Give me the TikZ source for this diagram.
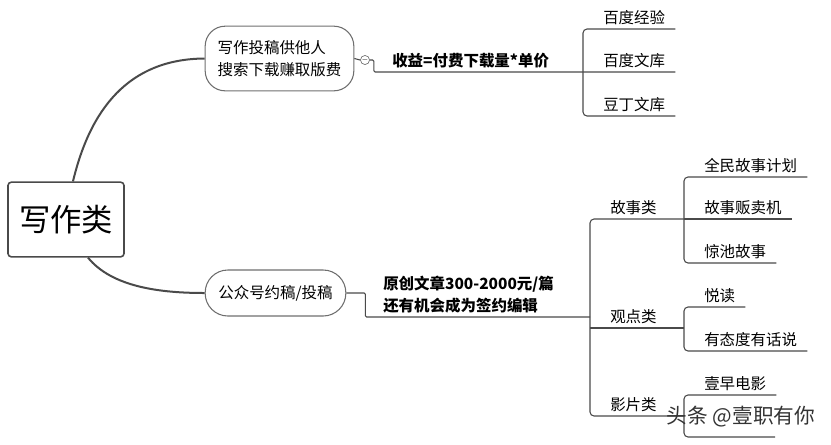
\documentclass[tikz,border=0pt]{standalone}
\usepackage{fontspec}
\setmainfont{Noto Sans CJK SC}
\usepackage{xcolor}
\definecolor{linegray}{HTML}{4A4A4A}
\definecolor{boxgray}{HTML}{6E6E6E}

\begin{document}
\begin{tikzpicture}[x=0.75pt,y=0.75pt,yscale=-1,
    mainline/.style={draw=linegray, line width=1.5pt},
    branch/.style={draw=linegray, line width=0.8pt, rounded corners=3pt},
    topic/.style={draw=boxgray, line width=0.8pt, align=left, inner xsep=8pt,
        font=\fontsize{11.6}{16.5}\selectfont},
    leaf/.style={anchor=south west, xshift=7.5pt, inner xsep=7.5pt, inner ysep=3pt,
        font=\fontsize{11.6}{16.5}\selectfont},
    note/.style={anchor=south west, inner xsep=7.5pt, inner ysep=3pt, align=left,
        font=\bfseries\fontsize{11.6}{16.5}\selectfont}]

    \useasboundingbox (0,0) rectangle (831,444);

    % centre topic
    \draw (66,219.5) node [draw=linegray, line width=1.2pt, rounded corners=2.5pt,
        minimum width=87pt, minimum height=56pt, font=\fontsize{23.5}{26}\selectfont] (root) {写作类};

    % main topics
    \draw (279.5,58.5) node [topic, rounded corners=15pt, minimum width=111.5pt, minimum height=48.5pt] (tougao) {写作投稿供他人\\搜索下载赚取版费};
    \draw (275.5,293) node [topic, rounded corners=17pt, minimum width=105.5pt, minimum height=34.5pt] (gzh) {公众号约稿/投稿};
    \draw (365,60) node [circle, draw=boxgray, line width=0.5pt, minimum size=6pt, inner sep=0pt,
        font=\fontsize{5}{5}\selectfont] (fold) {$-$};

    \draw[mainline] (root.north) ++(7,0) .. controls (90,110) and (128,59) .. (tougao.west);
    \draw[mainline] (root.south) ++(22,0) .. controls (112,287) and (160,293) .. (gzh.west);

    % upper branch
    \draw (382,72) node [note] (shouyi) {收益=付费下载量*单价};
    \draw (583,29) node [leaf] (bdjy) {百度经验};
    \draw (583,72) node [leaf] (bdwk) {百度文库};
    \draw (583,116) node [leaf] (ddwk) {豆丁文库};
    \coordinate (jA) at (583,72);

    \draw[branch] (tougao.east) -- (fold.west);
    \draw[branch, rounded corners=1pt] (fold.east) -- ++(4,0) |- (bdwk.south east);
    \draw[branch] (bdjy.south east) -| (jA) |- (ddwk.south east);

    % lower branch
    \draw (373,317) node [note] (yuangao) {原创文章300-2000元/篇\\还有机会成为签约编辑};
    \coordinate (jB) at (590,317);
    \coordinate (jS) at (684,219);
    \coordinate (jG) at (684,328);
    \coordinate (jY) at (684,416);

    \draw (590,219) node [leaf] (gushi) {故事类};
    \draw (590,328) node [leaf] (guandian) {观点类};
    \draw (590,416) node [leaf] (yingpian) {影片类};

    \draw (684,177) node [leaf] (qmgs) {全民故事计划};
    \draw (684,219) node [leaf] (gsfmj) {故事贩卖机};
    \draw (684,263) node [leaf] (jcgs) {惊池故事};
    \draw (684,307) node [leaf] (yuedu) {悦读};
    \draw (684,351) node [leaf] (ytd) {有态度有话说};
    \draw (684,395) node [leaf] (yzdy) {壹早电影};
    \coordinate (yp2) at (775,437);

    \draw[branch, rounded corners=1pt] (gzh.east) -- ++(19,0) |- (jB);
    \draw[branch] (jS) -| (jB) |- (jY);
    \draw[branch] (jB |- jG) -- (jG);

    \draw[branch] (qmgs.south east) -| (jS) |- (jcgs.south east);
    \draw[branch] (jS) -- (gsfmj.south east);
    \draw[branch] (yuedu.south east) -| (jG) |- (ytd.south east);
    \draw[branch] (yzdy.south east) -| (jY) |- (yp2);

    % watermark
    \draw (741,417) node [text=black!80, font=\fontsize{15.5}{18}\selectfont] (mark) {头条 @壹职有你};

\end{tikzpicture}
\end{document}
